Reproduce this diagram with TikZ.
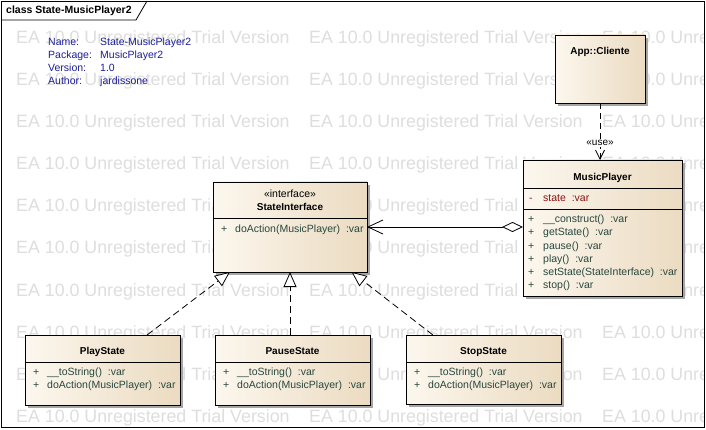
\documentclass[tikz,border=0pt]{standalone}
\usepackage{fontspec}
\setmainfont{Liberation Sans}
\usetikzlibrary{arrows.meta,calc,shadows}
\definecolor{boxL}{RGB}{252,247,238}
\definecolor{boxR}{RGB}{235,219,193}
\definecolor{optext}{RGB}{40,72,62}
\definecolor{attrtext}{RGB}{140,20,20}
\definecolor{infoblue}{RGB}{30,30,150}
\definecolor{wmgray}{RGB}{222,222,222}
\tikzset{
  classbox/.style={draw=black, line width=0.8pt, left color=boxL, right color=boxR,
    anchor=north west, inner sep=0pt, outer sep=0pt,
    drop shadow={shadow xshift=3pt, shadow yshift=-3pt, fill=black!35, opacity=1}},
  ttl/.style={font=\fontsize{10}{12}\selectfont\bfseries, anchor=base, inner sep=0pt},
  stereo/.style={font=\fontsize{10.5}{12}\selectfont, anchor=base, inner sep=0pt},
  opsign/.style={font=\fontsize{10.5}{12}\selectfont, anchor=base west, inner sep=0pt, text=optext},
  optxt/.style={font=\fontsize{10.5}{12}\selectfont, anchor=base west, inner sep=0pt, text=optext},
  attrtxt/.style={font=\fontsize{10.5}{12}\selectfont, anchor=base west, inner sep=0pt, text=attrtext},
  info/.style={font=\fontsize{10.5}{12}\selectfont, anchor=base west, inner sep=0pt, text=infoblue},
  wm/.style={font=\fontsize{17.8}{20}\selectfont, anchor=base west, inner sep=0pt, text=wmgray},
  sepline/.style={line width=0.8pt},
  dep/.style={line width=0.8pt, dash pattern=on 6pt off 4pt, -{Straight Barb[length=9pt,width=9pt]}},
  real/.style={line width=0.8pt, dash pattern=on 7pt off 4pt, -{Triangle[length=15pt,width=13pt,fill=white]}},
  assoc/.style={line width=0.8pt, {Straight Barb[length=15pt,width=14pt]}-{Diamond[length=21pt,width=10pt,fill=white]}},
}
\begin{document}
\begin{tikzpicture}[x=1pt,y=-1pt]
\useasboundingbox (0,0) rectangle (706,430);
\fill[white] (0,0) rectangle (706,430);
% watermark
\begin{scope}
  \clip (1,1) rectangle (704,427);
  \foreach \r in {0,...,9}{
    \foreach \c/\xx in {0/16,1/309,2/602}{
      \node[wm] (wm-\r-\c) at ({\xx},{44+42*\r}) {EA 10.0 Unregistered Trial Version};
    }
  }
\end{scope}
% frame
\draw[line width=0.8pt] (1,1) rectangle (704,427);
\draw[line width=0.8pt] (1,20) -- (136,20) -- (147,1);
\node[font=\fontsize{10.5}{12}\selectfont\bfseries, anchor=base west, inner sep=0pt] (hdr) at (6,14) {class State-MusicPlayer2};
% info
\node[info] (iname) at (48,46) {Name:};
\node[info] (ipkg) at (48,59) {Package:};
\node[info] (iver) at (48,72) {Version:};
\node[info] (iauth) at (48,85) {Author:};
\node[info] (vname) at (100,46) {State-MusicPlayer2};
\node[info] (vpkg) at (100,59) {MusicPlayer2};
\node[info] (vver) at (100,72) {1.0};
\node[info] (vauth) at (100,85) {jardissone};
% App::Cliente
\node[classbox, minimum width=90pt, minimum height=68pt] (cli) at (555,35) {};
\node[ttl] (cli-t) at (600,55) {App::Cliente};
% MusicPlayer
\node[classbox, minimum width=159pt, minimum height=136pt] (mp) at (523,160) {};
\node[ttl] (mp-t) at (602.5,181) {MusicPlayer};
\draw[sepline] ([yshift=-28pt]mp.north west) -- ([yshift=-28pt]mp.north east);
\draw[sepline] ([yshift=-49pt]mp.north west) -- ([yshift=-49pt]mp.north east);
\node[attrtxt] (mp-as) at (529,202) {-};
\node[attrtxt] (mp-a) at (543,202) {state~~:var};
\node[opsign] (mp-s1) at (528,223) {+};
\node[optxt] (mp-o1) at (543,223) {\_\_construct()~~:var};
\node[opsign] (mp-s2) at (528,236) {+};
\node[optxt] (mp-o2) at (543,236) {getState()~~:var};
\node[opsign] (mp-s3) at (528,249) {+};
\node[optxt] (mp-o3) at (543,249) {pause()~~:var};
\node[opsign] (mp-s4) at (528,262) {+};
\node[optxt] (mp-o4) at (543,262) {play()~~:var};
\node[opsign] (mp-s5) at (528,275) {+};
\node[optxt] (mp-o5) at (543,275) {setState(StateInterface)~~:var};
\node[opsign] (mp-s6) at (528,288) {+};
\node[optxt] (mp-o6) at (543,288) {stop()~~:var};
% StateInterface
\node[classbox, minimum width=154pt, minimum height=90pt] (si) at (213,182) {};
\node[stereo] (si-st) at (290,197.5) {«interface»};
\node[ttl] (si-t) at (290,211) {StateInterface};
\draw[sepline] ([yshift=-36pt]si.north west) -- ([yshift=-36pt]si.north east);
\node[opsign] (si-s1) at (221,232.5) {+};
\node[optxt] (si-o1) at (235,232.5) {doAction(MusicPlayer)~~:var};
% PlayState
\node[classbox, minimum width=155pt, minimum height=70pt] (ps) at (25,335) {};
\node[ttl] (ps-t) at (102.5,354) {PlayState};
\draw[sepline] ([yshift=-27pt]ps.north west) -- ([yshift=-27pt]ps.north east);
\node[opsign] (ps-s1) at (33,375.5) {+};
\node[optxt] (ps-o1) at (47,375.5) {\_\_toString()~~:var};
\node[opsign] (ps-s2) at (33,388.5) {+};
\node[optxt] (ps-o2) at (47,388.5) {doAction(MusicPlayer)~~:var};
% PauseState
\node[classbox, minimum width=155pt, minimum height=70pt] (pa) at (215,335) {};
\node[ttl] (pa-t) at (292.5,354) {PauseState};
\draw[sepline] ([yshift=-27pt]pa.north west) -- ([yshift=-27pt]pa.north east);
\node[opsign] (pa-s1) at (223,375.5) {+};
\node[optxt] (pa-o1) at (237,375.5) {\_\_toString()~~:var};
\node[opsign] (pa-s2) at (223,388.5) {+};
\node[optxt] (pa-o2) at (237,388.5) {doAction(MusicPlayer)~~:var};
% StopState
\node[classbox, minimum width=155pt, minimum height=69pt] (st) at (406,335) {};
\node[ttl] (st-t) at (483.5,354) {StopState};
\draw[sepline] ([yshift=-27pt]st.north west) -- ([yshift=-27pt]st.north east);
\node[opsign] (st-s1) at (414,375.5) {+};
\node[optxt] (st-o1) at (428,375.5) {\_\_toString()~~:var};
\node[opsign] (st-s2) at (414,388.5) {+};
\node[optxt] (st-o2) at (428,388.5) {doAction(MusicPlayer)~~:var};
% connectors
\draw[dep] (cli.south) -- (cli.south |- mp.north);
\node[font=\fontsize{10}{12}\selectfont, anchor=base, inner sep=1pt, fill=white] (uselbl) at (600,146) {«use»};
\draw[assoc] (si.east) -- (si.east -| mp.west);
\draw[real] ($(ps.north west)!0.787!(ps.north east)$) -- ($(si.south west)!0.11!(si.south east)$);
\draw[real] (pa.north -| si.south) -- (si.south);
\draw[real] ($(st.north west)!0.174!(st.north east)$) -- ($(si.south west)!0.9!(si.south east)$);
\end{tikzpicture}
\end{document}
